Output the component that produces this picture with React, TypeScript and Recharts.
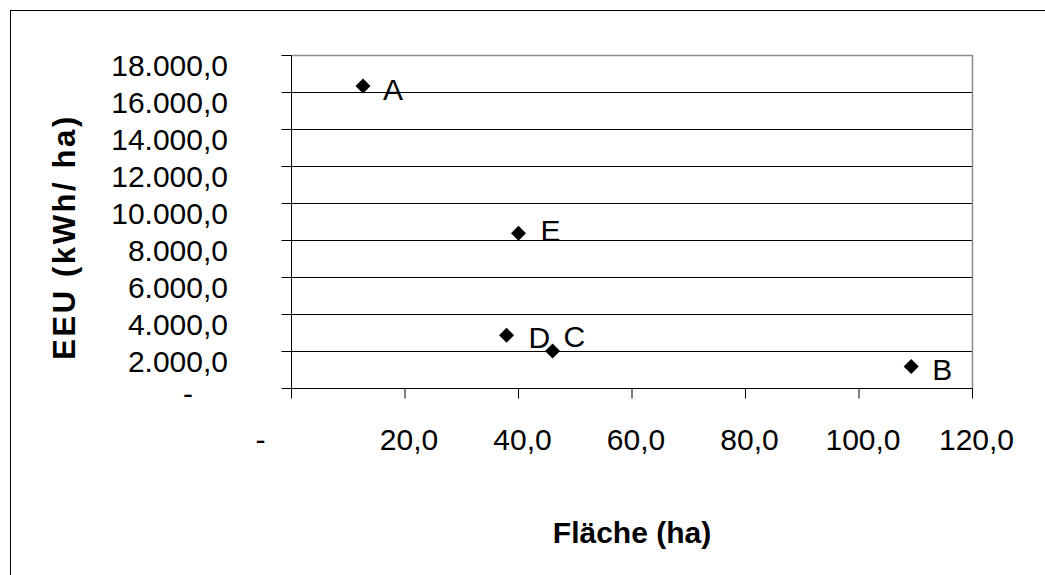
import { ScatterChart, Scatter, XAxis, YAxis, CartesianGrid, ReferenceLine, Label } from 'recharts';

// Betriebe A–E: Fläche in ha, EEU in kWh/ha
const betriebe = ['A', 'B', 'C', 'D', 'E'];
const flaeche = [12.6, 109.2, 46.0, 37.9, 40.0];
const eeu = [16350, 1190, 2030, 2880, 8390];

const xTicks = [0, 20, 40, 60, 80, 100, 120];
const yTicks = [0, 2000, 4000, 6000, 8000, 10000, 12000, 14000, 16000, 18000];

const data = betriebe.map((name, i) => ({ name, x: flaeche[i], y: eeu[i] }));

// where each point's letter sits relative to the marker (text left edge, baseline)
const labelOffset: Record<string, [number, number]> = {
  A: [20, 14],
  B: [21, 14],
  C: [11, -3.5],
  D: [22, 13],
  E: [22, 8],
};

const FONT = '"Liberation Sans", Arial, Helvetica, sans-serif';
const FS = 30;

const fmt = (v: number) =>
  v.toLocaleString('de-DE', { minimumFractionDigits: 1, maximumFractionDigits: 1 });

const YTick = ({ x, y, payload }: any) => {
  if (payload.value === 0) {
    return (
      <text x={x - 35} y={y + 15} textAnchor="end" fontSize={FS} fontFamily={FONT} fill="#000">
        -
      </text>
    );
  }
  return (
    <text x={x} y={y + 20} textAnchor="end" fontSize={FS} fontFamily={FONT} fill="#000">
      {fmt(payload.value)}
    </text>
  );
};

const XTick = ({ x, y, payload }: any) => {
  if (payload.value === 0) {
    return (
      <text x={x - 31} y={y + 51} textAnchor="middle" fontSize={FS} fontFamily={FONT} fill="#000">
        -
      </text>
    );
  }
  return (
    <text x={x + 4} y={y + 51} textAnchor="middle" fontSize={FS} fontFamily={FONT} fill="#000">
      {fmt(payload.value)}
    </text>
  );
};

const Diamond = ({ cx, cy, payload }: any) => {
  const r = 7.5;
  const [dx, dy] = labelOffset[payload.name] ?? [20, 14];
  return (
    <g>
      <polygon
        points={`${cx},${cy - r} ${cx + r},${cy} ${cx},${cy + r} ${cx - r},${cy}`}
        fill="#000"
      />
      <text x={cx + dx} y={cy + dy} fontSize={FS} fontFamily={FONT} fill="#000">
        {payload.name}
      </text>
    </g>
  );
};

const XTitle = ({ viewBox }: any) => (
  <text
    x={viewBox.x + viewBox.width / 2}
    y={viewBox.y + 154}
    textAnchor="middle"
    fontSize={30}
    fontWeight="bold"
    fontFamily={FONT}
    fill="#000"
  >
    Fläche (ha)
  </text>
);

const YTitle = ({ viewBox }: any) => {
  const cx = viewBox.x + 75;
  const cy = viewBox.y + viewBox.height / 2 + 15;
  return (
    <text
      x={cx}
      y={cy}
      transform={`rotate(-90 ${cx} ${cy})`}
      textAnchor="middle"
      fontSize={31}
      fontWeight="bold"
      fontFamily={FONT}
      letterSpacing={2.6}
      fill="#000"
    >
      EEU (kWh/ ha)
    </text>
  );
};

export default function App() {
  return (
    <div
      style={{
        position: 'absolute',
        left: 0,
        top: 0,
        width: 1045,
        height: 575,
        overflow: 'hidden',
        background: '#fff',
      }}
    >
      <div
        style={{
          position: 'absolute',
          left: 10,
          top: 10,
          width: 1100,
          height: 700,
          border: '1px solid #000',
        }}
      />
      <div style={{ position: 'absolute', left: 0, top: 0 }}>
        <ScatterChart width={1045} height={575} margin={{ top: 55.5, right: 72.5, bottom: 0, left: 0 }}>
          <CartesianGrid horizontal vertical={false} stroke="#000" />
          <ReferenceLine y={18000} stroke="#8c8c8c" strokeWidth={1.5} />
          <ReferenceLine x={120} stroke="#8c8c8c" strokeWidth={1.5} />
          <XAxis
            type="number"
            dataKey="x"
            domain={[0, 120]}
            ticks={xTicks}
            height={186.5}
            tickSize={10}
            tickMargin={0}
            axisLine={{ stroke: '#000' }}
            tickLine={{ stroke: '#000' }}
            tick={<XTick />}
            interval={0}
          >
            <Label content={<XTitle />} />
          </XAxis>
          <YAxis
            type="number"
            dataKey="y"
            domain={[0, 18000]}
            ticks={yTicks}
            width={291.5}
            tickSize={10}
            tickMargin={53.5}
            axisLine={{ stroke: '#000' }}
            tickLine={{ stroke: '#000' }}
            tick={<YTick />}
            interval={0}
          >
            <Label content={<YTitle />} />
          </YAxis>
          <Scatter data={data} fill="#000" shape={<Diamond />} isAnimationActive={false} />
        </ScatterChart>
      </div>
    </div>
  );
}
